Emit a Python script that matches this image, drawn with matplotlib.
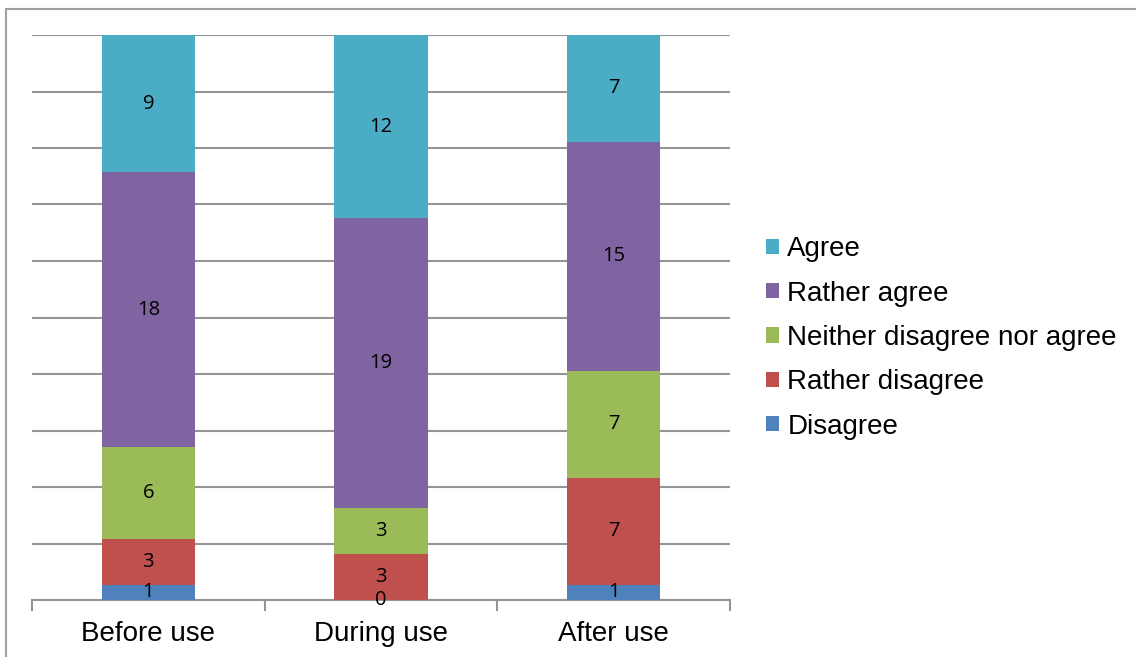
import numpy as np
import matplotlib.pyplot as plt
from matplotlib.patches import Patch, Rectangle

phases = ["Before use", "During use", "After use"]
responses = ["Disagree", "Rather disagree", "Neither disagree nor agree", "Rather agree", "Agree"]
disagree = [1, 0, 1]
rather_disagree = [3, 3, 7]
neutral = [6, 3, 7]
rather_agree = [18, 19, 15]
agree = [9, 12, 7]

colors = ["#4F81BD", "#C0504D", "#9BBB59", "#8064A2", "#4BACC6"]

counts = np.array([disagree, rather_disagree, neutral, rather_agree, agree], dtype=float)
totals = counts.sum(axis=0)
shares = counts / totals

fig = plt.figure(figsize=(11.36, 6.57), dpi=100)
ax = fig.add_axes([32 / 1136, 1 - 600 / 657, (730 - 32) / 1136, (600 - 35) / 657])

# chart frame
fig.patches.append(Rectangle((6 / 1136, -0.1), 1.2, 1 - 9 / 657 + 0.1, transform=fig.transFigure,
                             fill=False, edgecolor="#A0A0A0", linewidth=1.5))

x = np.arange(len(phases))
bottom = np.zeros(len(phases))
for i, name in enumerate(responses):
    ax.bar(x, shares[i], 0.4, bottom=bottom, color=colors[i], zorder=3)
    for j in range(len(phases)):
        ax.text(x[j], bottom[j] + shares[i][j] / 2, "%d" % counts[i][j],
                ha="center", va="center", fontsize=14.5, family="Open Sans", zorder=4)
    bottom += shares[i]

ax.set_xlim(-0.5, 2.5)
ax.set_ylim(0, 1)
ax.set_yticks(np.linspace(0, 1, 11))
ax.yaxis.grid(True, color="#959595", linewidth=1.5, zorder=0)
ax.tick_params(axis="y", length=0, labelleft=False)

ax.set_xticks([-0.5, 0.5, 1.5, 2.5])
ax.set_xticklabels([])
ax.set_xticks(x, minor=True)
ax.set_xticklabels(phases, minor=True, fontsize=20, family="Liberation Sans")
ax.tick_params(axis="x", which="major", length=8, width=1.5, color="#959595", direction="out")
ax.tick_params(axis="x", which="minor", length=0, pad=15)

for s in ["top", "right", "left"]:
    ax.spines[s].set_visible(False)
ax.spines["bottom"].set_color("#959595")
ax.spines["bottom"].set_linewidth(1.5)

handles = [Patch(facecolor=colors[i], label=responses[i]) for i in range(len(responses))][::-1]
fig.legend(handles=handles, loc="center left", bbox_to_anchor=(766 / 1136, 1 - 338 / 657),
           frameon=False, prop={"family": "Liberation Sans", "size": 20},
           handlelength=0.47, handleheight=0.47, handletextpad=0.3, labelspacing=0.66,
           borderpad=0, borderaxespad=0)

fig.savefig("out.png", dpi=100)
